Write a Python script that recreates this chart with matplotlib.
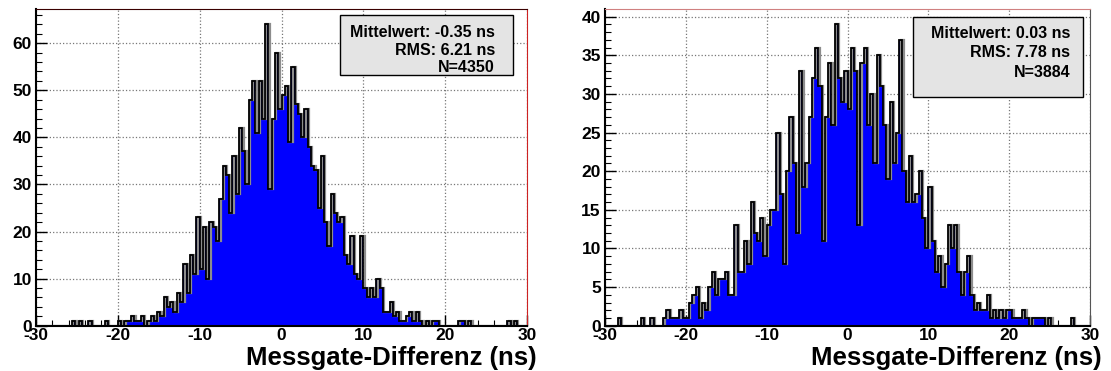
import numpy as np
import matplotlib.pyplot as plt
import matplotlib.transforms as mtransforms
from matplotlib.patches import Rectangle
from matplotlib.ticker import MultipleLocator, FuncFormatter

plt.rcParams['font.family'] = ['Liberation Sans', 'DejaVu Sans']
plt.rcParams['font.weight'] = 'bold'
plt.rcParams['axes.unicode_minus'] = False

# bin edges: -30 ns .. 30 ns in 0.4 ns steps
kanten = np.linspace(-30, 30, 151)

# linkes Histogramm (Zählwerte je Bin)
links_m30 = [0,0,0,0,0, 0,0,0,0,0, 0,1,0,1,0, 0,1,0,0,0, 0,1,0,0,0]
links_m20 = [1,0,1,1,2, 1,1,2,0,1, 2,1,3,2,6, 4,5,3,7,5, 13,7,15,11,23]
links_m10 = [12,21,10,22,21, 18,27,34,32,24, 36,28,42,37,30, 48,52,41,52,44, 64,29,44,58,46]
links_p00 = [49,51,39,55,47, 45,40,46,38,34, 33,25,36,22,17, 28,24,22,23,15, 13,19,11,10,19]
links_p10 = [8,6,8,6,10, 8,3,3,5,2, 3,1,1,2,3, 1,3,1,0,1, 0,1,1,0,0]
links_p20 = [0,0,0,0,1, 1,0,1,0,0, 0,0,0,0,0, 0,0,0,0,1, 0,1,0,0,0]
links = links_m30 + links_m20 + links_m10 + links_p00 + links_p10 + links_p20

# rechtes Histogramm
rechts_m30 = [0,0,0,0,1, 0,0,0,0,0, 0,1,0,0,1, 0,0,0,1,2, 1,1,1,2,1]
rechts_m20 = [1,3,4,5,1, 3,2,5,7,4, 6,6,7,4,4, 13,7,7,11,8, 16,12,11,14,9]
rechts_m10 = [13,15,15,25,17, 8,20,27,21,12, 33,18,21,27,32, 36,31,11,27,34, 26,39,32,29,33]
rechts_p00 = [28,36,33,13,34, 36,26,30,21,35, 31,26,19,29,21, 25,37,20,16,22, 16,17,20,14,10]
rechts_p10 = [18,11,7,9,5, 8,13,10,13,7, 4,7,9,4,2, 3,2,2,4,1, 2,1,2,1,2]
rechts_p20 = [2,1,1,1,2, 1,0,1,1,1, 1,0,1,0,0, 0,0,0,0,1, 0,0,0,0,0]
rechts = rechts_m30 + rechts_m20 + rechts_m10 + rechts_p00 + rechts_p10 + rechts_p20

stats_links = ["Mittelwert: -0.35 ns", "RMS: 6.21 ns", "N=4350"]
stats_rechts = ["Mittelwert: 0.03 ns", "RMS: 7.78 ns", "N=3884"]

fig = plt.figure(figsize=(11.11, 3.71), dpi=100)
ax1 = fig.add_axes([36/1111, 45.3/371, 491/1111, 316.4/371])
ax2 = fig.add_axes([605/1111, 45.3/371, 485/1111, 316.4/371])


def zeichne(ax, werte, ymax, ymajor, yminor, stats, box, textpos, xlab_x):
    ax.set_axisbelow(True)
    ax.stairs(werte, kanten, fill=True, color='#0000ff', lw=0, zorder=1)
    schatten = ax.transData + mtransforms.ScaledTranslation(1.3/100, 0, fig.dpi_scale_trans)
    ax.stairs(werte, kanten, color='#8c8c8c', lw=1.6, transform=schatten, zorder=2)
    ax.stairs(werte, kanten, color='black', lw=1.3, zorder=3)
    ax.set_xlim(-30, 30)
    ax.set_ylim(0, ymax)
    ax.xaxis.set_major_locator(MultipleLocator(10))
    ax.xaxis.set_minor_locator(MultipleLocator(2))
    ax.yaxis.set_major_locator(MultipleLocator(ymajor))
    ax.yaxis.set_minor_locator(MultipleLocator(yminor))
    fmt = FuncFormatter(lambda v, p: f"{v:.0f}")
    ax.xaxis.set_major_formatter(fmt)
    ax.yaxis.set_major_formatter(fmt)
    ax.grid(True, which='major', ls=':', color='#777777', lw=0.9)
    ax.tick_params(which='both', direction='in', top=False, right=False,
                   labelsize=12.5, color='black')
    ax.tick_params(which='major', length=8, width=1.0)
    ax.tick_params(axis='x', which='major', pad=2)
    ax.tick_params(axis='y', which='major', pad=3)
    ax.tick_params(which='minor', length=4, width=0.8)
    for s in ['left', 'bottom']:
        ax.spines[s].set_linewidth(1.5)
        ax.spines[s].set_color('black')
    # stats box
    x0, y0, x1, y1 = box
    ax.add_patch(Rectangle((x0, y0), x1 - x0, y1 - y0, transform=ax.transAxes,
                           facecolor='#e4e4e4', edgecolor='black', lw=1.0, zorder=5))
    for txt, yy in zip(stats, textpos[1]):
        ax.text(textpos[0], yy, txt, transform=ax.transAxes, ha='right', va='center',
                fontsize=11.5, fontweight='bold', zorder=6)
    ax.text(xlab_x, -0.124, "Messgate-Differenz (ns)", transform=ax.transAxes,
            ha='right', va='baseline', fontsize=18.5, fontweight='bold')


zeichne(ax1, links, 67.2, 10, 2, stats_links,
        (0.619, 0.792, 0.971, 0.982), (0.935, [0.928, 0.871, 0.817]), 1.0204)
zeichne(ax2, rechts, 40.95, 5, 1, stats_rechts,
        (0.635, 0.723, 0.9856, 0.976), (0.9588, [0.925, 0.862, 0.799]), 1.024)

ax1.spines['top'].set_color('#3a0000')
ax1.spines['right'].set_color('#cc2222')
ax2.spines['top'].set_color('#d08080')
ax2.spines['right'].set_color('#555555')

fig.savefig('out.png', dpi=100)
